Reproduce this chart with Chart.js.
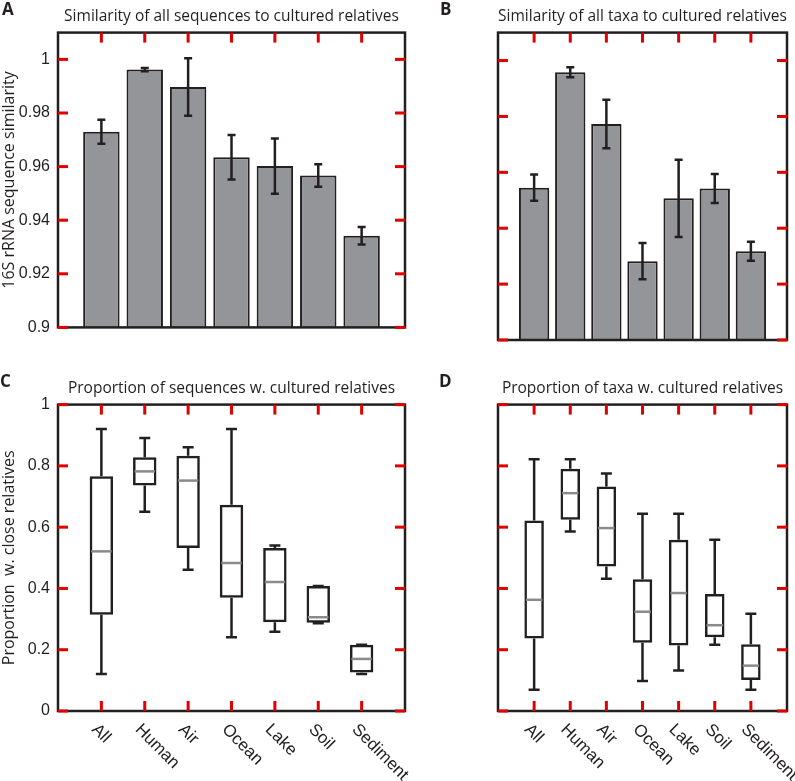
<!DOCTYPE html>
<html>
<head>
<meta charset="utf-8">
<script src="https://cdn.jsdelivr.net/npm/chart.js@4.4.0/dist/chart.umd.min.js"></script>
<style>
  body { margin: 0; background: #fff; }
  #wrap { position: relative; width: 795px; height: 781px; }
  .panel { position: absolute; }
</style>
</head>
<body>
<div id="wrap">
  <div class="panel" style="left:0;top:0;width:410px;height:345px"><canvas id="chartA"></canvas></div>
  <div class="panel" style="left:435px;top:0;width:360px;height:345px"><canvas id="chartB"></canvas></div>
  <div class="panel" style="left:0;top:345px;width:410px;height:436px"><canvas id="chartC"></canvas></div>
  <div class="panel" style="left:435px;top:345px;width:360px;height:436px"><canvas id="chartD"></canvas></div>
</div>
<script>
var categories = ['All', 'Human', 'Air', 'Ocean', 'Lake', 'Soil', 'Sediment'];

// A - similarity of all sequences (mean and error)
var seqSim = [0.973, 0.9962, 0.9897, 0.9635, 0.9602, 0.9567, 0.9342];
var seqSimErr = [0.0045, 0.0006, 0.0107, 0.0083, 0.0103, 0.0042, 0.0033];

// B - similarity of all taxa
var taxaSim = [0.9545, 0.9958, 0.9773, 0.9282, 0.9507, 0.9542, 0.9318];
var taxaSimErr = [0.0047, 0.0018, 0.0087, 0.0065, 0.0138, 0.0052, 0.0034];

// C - proportion of sequences w. cultured relatives (box plot)
var seqMin = [0.121, 0.650, 0.461, 0.241, 0.259, 0.286, 0.121];
var seqQ1 = [0.314, 0.736, 0.532, 0.370, 0.290, 0.288, 0.126];
var seqMed = [0.521, 0.782, 0.752, 0.483, 0.421, 0.306, 0.170];
var seqQ3 = [0.766, 0.828, 0.833, 0.673, 0.532, 0.408, 0.216];
var seqMax = [0.920, 0.891, 0.861, 0.920, 0.540, 0.408, 0.216];

// D - proportion of taxa w. cultured relatives
var taxaMin = [0.069, 0.586, 0.432, 0.098, 0.132, 0.216, 0.069];
var taxaQ1 = [0.237, 0.624, 0.472, 0.223, 0.214, 0.241, 0.101];
var taxaMed = [0.363, 0.711, 0.597, 0.324, 0.385, 0.280, 0.148];
var taxaQ3 = [0.622, 0.791, 0.733, 0.430, 0.559, 0.382, 0.218];
var taxaMax = [0.822, 0.822, 0.775, 0.644, 0.644, 0.559, 0.317];

var simTicks = [0.9, 0.92, 0.94, 0.96, 0.98, 1];
var propTicks = [0, 0.2, 0.4, 0.6, 0.8, 1];

var ink = '#231f20';
var tickInk = '#e00000';
var barGrey = '#939598';
var medianGrey = '#8a8a8a';
var titleFont = { family: 'Open Sans', size: 15.5, weight: 'normal' };
var tickFont = { family: 'Liberation Sans', size: 16 };

function xy(vals) {
  return categories.map(function (c, i) { return { x: i + 1, y: vals[i] }; });
}

// frame, inward ticks, error bars / whiskers, panel letter, rotated labels
function makePanel(cfg) {
  return {
    id: 'panel' + cfg.letter,
    afterDatasetsDraw: function (chart) {
      var ctx = chart.ctx, a = chart.chartArea;
      var ys = chart.scales.y;
      var meta = chart.getDatasetMeta(0);
      var top = a.top, bottom = a.bottom, left = a.left, right = a.right;
      ctx.save();
      ctx.lineCap = 'butt';

      if (cfg.err) {
        ctx.strokeStyle = ink;
        ctx.lineWidth = 2.5;
        meta.data.forEach(function (bar, i) {
          var hi = ys.getPixelForValue(cfg.mean[i] + cfg.err[i]);
          var lo = ys.getPixelForValue(cfg.mean[i] - cfg.err[i]);
          ctx.beginPath();
          ctx.moveTo(bar.x, hi); ctx.lineTo(bar.x, lo);
          ctx.moveTo(bar.x - 4, hi); ctx.lineTo(bar.x + 4, hi);
          ctx.moveTo(bar.x - 4, lo); ctx.lineTo(bar.x + 4, lo);
          ctx.stroke();
        });
      }
      if (cfg.box) {
        var b = cfg.box;
        meta.data.forEach(function (bar, i) {
          var pMin = ys.getPixelForValue(b.min[i]);
          var pQ1 = ys.getPixelForValue(b.q1[i]);
          var pQ3 = ys.getPixelForValue(b.q3[i]);
          var pMax = ys.getPixelForValue(b.max[i]);
          var pMed = ys.getPixelForValue(b.med[i]);
          ctx.strokeStyle = ink;
          ctx.lineWidth = 2.5;
          ctx.beginPath();
          ctx.moveTo(bar.x, pQ3); ctx.lineTo(bar.x, pMax);
          ctx.moveTo(bar.x - 5.5, pMax); ctx.lineTo(bar.x + 5.5, pMax);
          ctx.moveTo(bar.x, pQ1); ctx.lineTo(bar.x, pMin);
          ctx.moveTo(bar.x - 5.5, pMin); ctx.lineTo(bar.x + 5.5, pMin);
          ctx.stroke();
          var hw = bar.width / 2 - 1.5;
          ctx.strokeStyle = medianGrey;
          ctx.beginPath();
          ctx.moveTo(bar.x - hw, pMed); ctx.lineTo(bar.x + hw, pMed);
          ctx.stroke();
        });
      }

      // axes box
      ctx.strokeStyle = ink;
      ctx.lineWidth = 2.5;
      ctx.strokeRect(left, top, right - left, bottom - top);

      // inward tick marks
      ctx.fillStyle = tickInk;
      meta.data.forEach(function (bar) {
        ctx.fillRect(bar.x - 1.5, top, 3, 10);
        if (cfg.labels) {
          ctx.fillRect(bar.x - 1.5, bottom - 10, 3, 10);
        }
      });
      cfg.yTicks.forEach(function (v) {
        var py = ys.getPixelForValue(v);
        ctx.fillRect(left, py - 1.5, 10, 3);
        ctx.fillRect(right - 10, py - 1.5, 10, 3);
      });

      // panel letter
      ctx.fillStyle = ink;
      ctx.font = 'bold 17px "Open Sans"';
      ctx.textAlign = 'left';
      ctx.textBaseline = 'top';
      ctx.fillText(cfg.letter, cfg.letterX, top - 31);
      // rotated category labels
      if (cfg.labels) {
        ctx.font = '17px "Liberation Sans"';
        ctx.textBaseline = 'middle';
        meta.data.forEach(function (bar, i) {
          ctx.save();
          ctx.translate(bar.x - 7, bottom + 16);
          ctx.rotate(Math.PI / 4);
          ctx.fillText(categories[i], 0, 0);
          ctx.restore();
        });
      }
      ctx.restore();
    }
  };
}

function simChart(id, letter, letterX, title, mean, err, withAxis) {
  return new Chart(document.getElementById(id), {
    type: 'bar',
    data: {
      datasets: [{
        data: xy(mean),
        backgroundColor: barGrey,
        borderColor: ink,
        borderWidth: 2,
        barPercentage: 0.84,
        categoryPercentage: 1
      }]
    },
    options: {
      responsive: true,
      maintainAspectRatio: false,
      animation: false,
      layout: { padding: { top: 0, right: withAxis ? 5 : 8, bottom: 5, left: withAxis ? 0 : 5 } },
      plugins: {
        legend: { display: false },
        tooltip: { enabled: false },
        title: { display: true, fullSize: false, text: title, font: titleFont, color: ink, padding: { top: 7, bottom: 7 } }
      },
      scales: {
        x: { type: 'linear', min: 0, max: 8, offset: false, display: false },
        y: {
          min: 0.9,
          max: 1.01,
          display: withAxis,
          afterBuildTicks: function (s) { s.ticks = simTicks.map(function (v) { return { value: v }; }); },
          afterFit: function (s) { s.width = 58; },
          grid: { display: false, drawTicks: false },
          border: { display: false },
          ticks: { padding: 8, font: tickFont, color: ink, callback: function (v) { return String(+v.toFixed(2)); } },
          title: { display: true, text: '16S rRNA sequence similarity', font: { family: 'Open Sans', size: 16 }, color: ink, padding: { top: 0, bottom: 0 } }
        }
      }
    },
    plugins: [makePanel({ letter: letter, letterX: letterX, yTicks: simTicks, mean: mean, err: err })]
  });
}

function propChart(id, letter, letterX, title, box, withAxis) {
  return new Chart(document.getElementById(id), {
    type: 'bar',
    data: {
      datasets: [{
        data: categories.map(function (c, i) { return { x: i + 1, y: [box.q1[i], box.q3[i]] }; }),
        backgroundColor: 'rgba(0,0,0,0)',
        borderColor: ink,
        borderWidth: 2.5,
        borderSkipped: false,
        barPercentage: 0.54,
        categoryPercentage: 1
      }]
    },
    options: {
      responsive: true,
      maintainAspectRatio: false,
      animation: false,
      layout: { padding: { top: 0, right: withAxis ? 5 : 8, bottom: 70, left: withAxis ? 0 : 5 } },
      plugins: {
        legend: { display: false },
        tooltip: { enabled: false },
        title: { display: true, fullSize: false, text: title, font: titleFont, color: ink, padding: { top: 34, bottom: 7 } }
      },
      scales: {
        x: { type: 'linear', min: 0, max: 8, offset: false, display: false },
        y: {
          min: 0,
          max: 1,
          display: withAxis,
          afterBuildTicks: function (s) { s.ticks = propTicks.map(function (v) { return { value: v }; }); },
          afterFit: function (s) { s.width = 58; },
          grid: { display: false, drawTicks: false },
          border: { display: false },
          ticks: { padding: 8, font: tickFont, color: ink, callback: function (v) { return String(+v.toFixed(1)); } },
          title: { display: true, text: 'Proportion  w. close relatives', font: { family: 'Open Sans', size: 16 }, color: ink, padding: { top: 0, bottom: 0 } }
        }
      }
    },
    plugins: [makePanel({ letter: letter, letterX: letterX, yTicks: propTicks, box: box, labels: true })]
  });
}

simChart('chartA', 'A', 2, 'Similarity of all sequences to cultured relatives', seqSim, seqSimErr, true);
simChart('chartB', 'B', 5, 'Similarity of all taxa to cultured relatives', taxaSim, taxaSimErr, false);
propChart('chartC', 'C', 0, 'Proportion of sequences w. cultured relatives',
  { min: seqMin, q1: seqQ1, med: seqMed, q3: seqQ3, max: seqMax }, true);
propChart('chartD', 'D', 4, 'Proportion of taxa w. cultured relatives',
  { min: taxaMin, q1: taxaQ1, med: taxaMed, q3: taxaQ3, max: taxaMax }, false);
</script>
</body>
</html>
